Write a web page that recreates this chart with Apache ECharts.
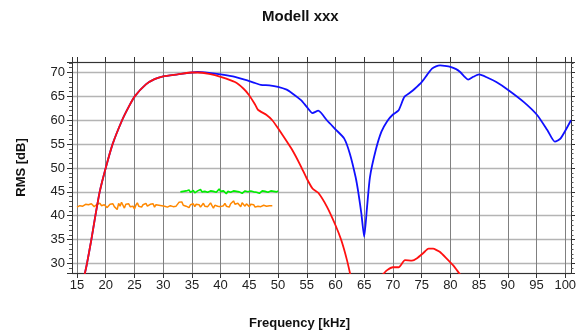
<!DOCTYPE html>
<html>
<head>
<meta charset="utf-8">
<script src="https://cdn.jsdelivr.net/npm/echarts@6/dist/echarts.min.js"></script>
<style>
  html, body { margin: 0; padding: 0; background: #fff; }
  #chart { width: 581px; height: 332px; }
</style>
</head>
<body>
<div id="chart"></div>
<script>
// Blue curve (frequency in kHz, RMS in dB)
const blueFreq = [16.2, 16.74, 17.5, 18.2, 18.95, 20.0, 21.2, 22.85, 24.0, 25.05, 27, 28.5, 30, 32.5, 35, 36, 38, 40, 42.5, 45, 46, 47, 48.5, 50, 51.5, 52.5, 54, 55, 56, 57, 58.5, 60, 61.5, 62.5, 63.5, 64, 64.5, 65, 65.5, 66, 67, 68, 69, 70, 71, 72, 73, 73.8, 75, 76, 76.8, 77.5, 78.2, 79, 80, 81, 81.7, 82.4, 83.1, 84, 85, 86.5, 88, 90, 92.8, 95.1, 96.9, 98.2, 99.2, 101];
const blueRms = [27.0, 30, 35, 40, 45, 50, 55, 60, 62.8, 65, 67.5, 68.6, 69.2, 69.6, 70.0, 70.1, 69.9, 69.6, 69.1, 68.2, 67.8, 67.4, 67.3, 67.0, 66.4, 65.6, 64.2, 62.8, 61.5, 62.0, 60.0, 58.1, 56.2, 53.0, 48.1, 44.7, 40.5, 35.6, 41.9, 48.1, 53.7, 57.6, 59.8, 61.2, 62.1, 64.9, 65.8, 66.6, 68.0, 69.6, 70.8, 71.3, 71.5, 71.4, 71.2, 70.7, 70.1, 69.2, 68.5, 69.1, 69.6, 68.9, 68.0, 66.4, 63.8, 61.1, 57.9, 55.5, 56.2, 60.0];

// Red curve, two pieces (null = gap)
const redFreq = [16.2, 16.74, 17.5, 18.2, 18.95, 20.0, 21.2, 22.85, 24.0, 25.05, 27, 28.5, 30, 32.5, 35, 36, 38, 40, 42.5, 44, 45, 46, 46.5, 48, 49, 50, 52.5, 54, 55, 56, 57, 58.5, 60, 61, 62, 62.8, 65, 68.0, 69, 70, 71, 72.1, 73.3, 74.2, 75.3, 76.2, 77, 77.6, 78.2, 79.3, 80.5, 81.5, 82];
const redRms = [27.0, 30, 35, 40, 45, 50, 55, 60, 62.8, 65, 67.5, 68.6, 69.2, 69.6, 70.0, 70.0, 69.7, 69.1, 68.0, 66.6, 65.2, 63.3, 62.2, 61.1, 60.0, 58.3, 53.7, 50.3, 47.8, 45.7, 44.8, 41.9, 38.0, 34.9, 30.7, 26.5, null, 27.4, 28.6, 29.2, 29.2, 30.7, 30.6, 31.1, 32.2, 33.1, 33.1, 32.8, 32.4, 31.1, 29.6, 28.0, 27.2];

// Noisy traces, sampled every 0.25 kHz
const noiseStep = 0.25;
const greenStart = 33;
const greenRms = [
  45.0, 44.9, 45.1, 44.8, 45.2, 45.0, 45.4, 44.9, 45.1, 45.3, 44.8, 45.0, 45.2, 44.9, 45.5, 45.0, 44.7, 45.1, 45.3, 44.9,
  45.0, 45.2, 44.8, 45.1, 45.4, 44.9, 45.0, 45.6, 45.1, 44.8, 45.2, 45.0, 44.6, 45.1, 45.3, 44.9, 45.0, 45.2, 44.8, 45.1,
  44.9, 45.0, 45.3, 44.7, 45.1, 45.2, 44.9, 45.0, 44.6, 45.2, 44.8, 45.0, 45.3, 44.9, 45.1, 44.7, 45.0, 45.2, 44.8, 45.1,
  45.4, 44.9, 45.0, 45.2, 44.8, 45.1, 45.3, 45.0, 45.2
];
const orangeStart = 15;
const orangeRms = [
  41.8, 41.9, 42.1, 42.3, 42.0, 42.2, 42.4, 42.1, 42.3, 42.0, 42.5, 42.2, 41.9, 42.2, 42.4, 42.0, 42.6, 42.1, 41.8, 42.3,
  42.0, 41.7, 42.1, 42.4, 42.2, 42.5, 41.9, 42.3, 41.3, 42.6, 42.0, 42.8, 42.2, 41.6, 42.4, 42.1, 42.5, 41.9, 42.3, 42.0,
  41.4, 42.2, 42.7, 42.0, 42.4, 41.8, 42.3, 42.1, 42.6, 42.0, 41.9, 42.4, 42.2, 42.5, 41.8, 42.3, 42.0, 42.2, 41.9, 42.1,
  42.3, 42.0, 42.4, 41.8, 42.2, 42.1, 42.5, 41.9, 42.3, 42.0, 42.4, 42.8, 42.5, 42.9, 42.2, 42.6, 42.0, 42.4, 41.7, 42.3,
  42.1, 42.5, 41.9, 42.4, 42.0, 42.3, 41.8, 42.2, 42.6, 42.0, 42.4, 41.9, 42.3, 42.7, 42.1, 41.6, 42.2, 42.5, 42.0, 42.4,
  41.9, 42.3, 42.1, 42.6, 42.0, 42.4, 41.8, 42.5, 42.2, 43.1, 42.4, 42.0, 42.6, 42.2, 41.9, 42.7, 42.3, 42.0, 42.5, 42.1,
  41.9, 42.4, 42.1, 42.3, 41.8, 42.2, 42.0, 42.3, 41.9, 42.1, 42.2, 41.9, 42.0, 41.8, 42.1, 41.9, 42.1
];

const xMin = 14.13, xMax = 101;
const yMin = 28, yMax = 72.2;

const pairs = (xs, ys) => xs.map((x, i) => [x, ys[i]]);
const sampled = (start, ys) => ys.map((y, i) => [start + i * noiseStep, y]);

const font = 'Liberation Sans, Arial, sans-serif';
const axisColor = '#333';

const chart = echarts.init(document.getElementById('chart'));

const option = {
  animation: false,
  backgroundColor: '#fff',
  title: [
    { text: 'Modell xxx', left: 257, top: 4,
      textStyle: { fontFamily: font, fontSize: 15, fontWeight: 'bold', color: '#111' } },
    { text: 'Frequency [kHz]', left: 244, top: 312,
      textStyle: { fontFamily: font, fontSize: 13, fontWeight: 'bold', color: '#111' } }
  ],
  grid: { left: 72, right: 10, top: 62, bottom: 59 },
  xAxis: [
    {
      type: 'value', min: xMin, max: xMax, splitNumber: 17,
      axisLine: { lineStyle: { color: axisColor, width: 1 } },
      axisTick: { length: 5, lineStyle: { color: axisColor } },
      axisLabel: { fontFamily: font, fontSize: 13, color: '#222', margin: 6,
        showMinLabel: false, showMaxLabel: false },
      splitLine: { show: true, lineStyle: { color: '#808080', width: 1 } }
    },
    {
      type: 'value', position: 'top', min: xMin, max: xMax, splitNumber: 17,
      axisLine: { show: true, lineStyle: { color: axisColor, width: 1 } },
      axisTick: { show: true, length: 5, lineStyle: { color: axisColor } },
      axisLabel: { show: false },
      splitLine: { show: false }
    }
  ],
  yAxis: [
    {
      type: 'value', min: yMin, max: yMax, splitNumber: 9,
      name: 'RMS [dB]', nameLocation: 'middle', nameGap: 44,
      nameTextStyle: { fontFamily: font, fontSize: 13, fontWeight: 'bold', color: '#111' },
      axisLine: { show: true, lineStyle: { color: axisColor, width: 1 } },
      axisTick: { show: true, length: 5, lineStyle: { color: axisColor } },
      minorTick: { show: true, splitNumber: 5, length: 3, lineStyle: { color: '#555' } },
      axisLabel: { fontFamily: font, fontSize: 13, color: '#222', margin: 7,
        showMinLabel: false, showMaxLabel: false },
      splitLine: { show: true, lineStyle: { color: '#b4b4b4', width: 1.3 } }
    },
    {
      type: 'value', position: 'right', min: yMin, max: yMax, splitNumber: 9,
      axisLine: { show: true, lineStyle: { color: axisColor, width: 1 } },
      axisTick: { show: true, length: 4, lineStyle: { color: axisColor } },
      minorTick: { show: true, splitNumber: 5, length: 2.5, lineStyle: { color: '#555' } },
      axisLabel: { show: false },
      splitLine: { show: false }
    }
  ],
  series: [
    {
      name: 'orange', type: 'line', data: sampled(orangeStart, orangeRms),
      showSymbol: false, lineStyle: { color: '#ff8800', width: 1.5 }, z: 2
    },
    {
      name: 'green', type: 'line', data: sampled(greenStart, greenRms),
      showSymbol: false, lineStyle: { color: '#00ee00', width: 1.6 }, z: 2
    },
    {
      name: 'blue', type: 'line', data: pairs(blueFreq, blueRms), smooth: 0.2,
      showSymbol: false, lineStyle: { color: '#1010ff', width: 1.8 }, z: 3
    },
    {
      name: 'red', type: 'line', data: pairs(redFreq, redRms), smooth: 0.2,
      connectNulls: false,
      showSymbol: false, lineStyle: { color: '#ff1010', width: 1.8 }, z: 4
    }
  ]
};

chart.setOption(option);
</script>
</body>
</html>
